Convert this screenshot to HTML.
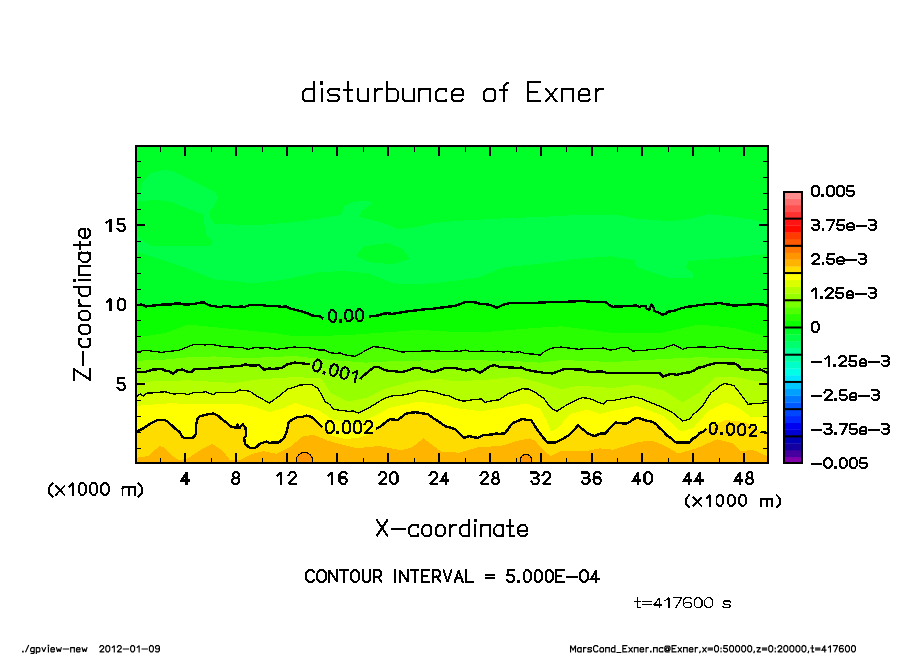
<!DOCTYPE html>
<html><head><meta charset="utf-8"><style>
html,body{margin:0;padding:0;background:#fff;width:904px;height:654px;overflow:hidden}
svg{display:block}
text{font-family:"Liberation Sans",sans-serif;fill:#000}
</style></head><body>
<svg width="904" height="654" viewBox="0 0 904 654">
<defs><clipPath id="pc"><rect x="137" y="147" width="630" height="315"/></clipPath></defs>
<g clip-path="url(#pc)" shape-rendering="crispEdges">
<rect x="135" y="145" width="634" height="320" fill="#00ff28"/>
<polygon fill="#00ff46" points="137.0,200.8 143.0,181.9 150.9,172.9 164.8,169.9 174.8,171.9 194.6,181.9 214.5,191.8 218.5,197.8 214.5,204.7 209.6,211.7 210.5,217.7 214.5,223.6 235.0,224.6 257.3,225.2 295.0,222.1 319.5,218.4 341.5,214.7 343.9,206.2 353.7,201.8 368.4,200.8 372.1,203.7 361.1,211.1 359.8,217.2 375.7,220.8 390.4,225.7 397.8,229.4 417.3,227.0 432.0,223.3 455.0,221.0 503.9,218.4 552.9,216.4 582.2,214.7 615.0,214.7 634.5,218.4 671.2,221.3 693.2,218.4 707.9,214.2 727.4,216.0 751.9,219.6 768.0,223.3 768.0,253.9 732.3,257.5 688.3,261.2 685.8,267.3 693.2,273.4 693.2,278.3 671.2,278.3 636.9,267.3 634.5,260.0 610.0,256.3 577.3,258.8 540.6,263.7 503.9,267.3 479.5,277.1 455.0,280.8 432.0,283.2 412.4,284.5 392.9,283.2 368.4,273.4 343.9,271.0 319.5,272.2 295.0,277.1 281.8,280.0 252.4,283.2 235.0,281.3 214.5,279.3 184.7,267.4 154.9,257.4 137.0,252.4"/>
<polygon fill="#00ff28" points="135.0,201.7 154.9,199.8 170.8,201.7 190.7,209.7 203.6,214.7 204.6,225.6 206.6,235.5 212.5,241.5 210.5,245.5 150.9,245.5 141.0,239.5 135.0,234.6"/>
<polygon fill="#00ff28" points="356.2,255.1 363.5,246.5 388.0,242.9 402.6,249.0 410.0,258.8 392.9,264.4 368.4,262.0 356.2,256.3"/>
<polygon fill="#0aff00" points="136.8,305.0 145.6,306.5 163.3,304.5 188.1,304.5 199.6,302.7 220.0,307.3 244.7,306.8 253.6,305.0 267.7,305.9 281.9,306.8 294.3,309.5 303.8,312.1 323.3,318.7 346.0,318.0 369.3,316.5 392.3,313.9 410.0,310.9 436.6,308.2 455.0,305.9 470.9,302.0 490.4,305.0 496.6,307.7 504.6,304.2 516.9,303.3 543.5,302.4 578.9,301.0 605.4,302.0 612.5,306.8 636.0,305.5 639.5,306.8 643.0,305.8 645.7,306.4 646.5,308.6 649.2,309.9 651.4,304.6 653.2,306.4 654.5,311.2 658.9,312.6 662.5,314.8 666.0,313.5 667.8,311.7 674.0,310.8 680.2,308.6 687.3,306.8 695.2,305.9 707.3,303.8 719.7,302.7 733.9,305.6 760.4,303.8 768.0,305.9 768.0,464.0 135.0,464.0"/>
<polygon fill="#28ff00" points="135.0,336.9 152.7,335.1 166.9,332.5 188.1,324.5 205.8,326.3 223.5,328.1 250.0,330.7 276.6,333.4 295.0,336.5 348.1,335.1 383.5,332.5 418.9,329.8 455.0,332.0 490.4,331.6 534.6,328.0 561.2,326.3 596.6,330.7 612.0,333.0 663.0,332.5 698.5,324.5 733.9,328.0 768.0,336.9 768.0,464.0 135.0,464.0"/>
<polygon fill="#50ff00" points="136.8,351.9 145.6,350.2 161.5,352.3 179.2,350.2 193.4,344.5 205.8,344.9 223.5,346.6 241.2,347.5 248.3,349.3 267.7,347.5 276.6,349.3 294.3,347.0 312.7,348.4 330.4,352.8 355.2,356.4 372.9,346.6 387.0,348.4 401.2,352.0 427.7,351.1 455.0,351.1 508.1,351.6 525.8,353.7 540.0,355.1 552.3,348.0 561.2,347.0 578.9,349.3 596.6,348.4 610.0,350.2 627.7,347.5 633.0,351.1 663.0,348.4 673.7,344.5 682.6,349.3 698.5,347.0 733.9,348.4 768.0,351.1 768.0,464.0 135.0,464.0"/>
<polygon fill="#78ff00" points="135.0,360.8 161.5,359.9 188.1,357.3 214.6,356.4 241.2,358.1 267.7,357.3 295.0,356.0 330.0,360.0 365.8,362.6 401.0,360.8 455.0,360.0 508.0,360.8 540.0,362.6 561.0,360.0 612.0,362.0 663.0,359.0 698.5,357.3 734.0,358.1 768.0,360.0 768.0,464.0 135.0,464.0"/>
<polygon fill="#96ff00" points="136.8,371.8 143.8,372.3 152.7,369.6 161.5,368.8 173.1,374.1 177.5,370.0 191.6,372.3 193.4,369.6 214.6,367.9 241.2,365.8 258.9,365.2 264.2,369.6 281.9,367.9 287.2,364.3 295.0,362.6 309.7,364.2 335.0,371.0 360.2,379.2 367.3,372.6 374.6,367.0 383.5,369.6 401.2,372.3 418.9,367.9 433.0,372.3 445.4,367.9 455.0,367.9 465.6,370.5 472.7,368.8 479.8,372.8 490.4,366.1 516.9,367.9 534.6,371.4 552.3,373.5 564.7,368.8 578.9,369.3 593.1,372.3 612.0,373.2 636.5,372.8 659.6,373.2 663.1,376.7 689.6,372.3 707.3,365.2 716.2,362.9 733.9,363.5 741.0,368.8 760.4,369.6 768.0,373.2 768.0,464.0 135.0,464.0"/>
<polygon fill="#b4ff00" points="135.0,382.0 188.0,380.3 234.0,383.0 259.0,379.4 295.0,377.0 321.5,378.5 330.4,392.7 348.1,401.5 365.8,398.0 383.5,389.2 410.0,382.0 436.6,378.5 455.0,381.5 490.4,379.4 517.0,376.8 543.5,383.8 561.2,389.2 578.9,385.6 612.0,388.0 636.5,384.7 663.0,390.0 682.6,402.4 698.5,392.7 716.0,376.8 734.0,376.8 751.6,380.3 768.0,382.0 768.0,464.0 135.0,464.0"/>
<polygon fill="#dcff00" points="136.8,396.2 140.3,394.1 143.8,396.2 145.6,393.2 165.1,391.8 173.9,394.1 188.1,394.5 205.8,391.8 212.9,394.8 216.4,392.7 234.1,392.7 239.4,390.0 250.0,391.3 257.1,396.2 269.5,403.0 280.1,395.4 287.2,389.2 295.0,387.0 310.9,384.2 318.0,388.3 325.1,401.5 333.9,409.5 348.1,411.3 358.7,413.1 369.3,407.7 383.5,398.9 401.2,395.4 424.2,390.6 436.6,392.7 455.0,399.0 463.8,401.2 472.7,399.8 481.5,398.9 485.1,402.4 499.2,399.8 508.1,393.6 522.3,388.8 534.6,391.8 543.5,398.0 550.6,407.7 556.8,411.3 566.5,405.1 578.9,398.9 582.4,397.7 596.6,401.5 603.7,404.2 607.2,400.7 612.0,400.7 633.0,396.6 641.9,398.9 663.1,407.7 672.0,412.2 682.6,421.0 689.6,419.2 702.0,406.9 710.9,392.7 725.0,383.5 733.9,385.6 741.0,394.5 748.0,404.2 760.4,403.3 768.0,402.4 768.0,464.0 135.0,464.0"/>
<polygon fill="#ffff00" points="135.0,406.0 170.0,403.3 206.0,404.2 241.0,404.2 255.0,406.9 269.5,412.2 282.0,408.6 295.0,403.0 318.8,410.3 332.0,419.2 349.8,424.0 363.0,421.8 376.4,414.7 390.0,407.7 418.9,401.5 445.4,405.1 455.0,408.0 481.5,411.3 508.0,406.9 525.8,403.3 540.0,408.6 547.0,421.0 550.6,431.6 557.7,428.1 570.0,414.0 587.7,409.5 600.0,414.0 612.0,411.0 636.5,406.0 663.0,415.7 680.8,431.6 693.2,428.1 709.0,410.4 725.0,402.4 737.4,406.9 751.6,417.5 768.0,416.6 768.0,464.0 135.0,464.0"/>
<polygon fill="#ffdc00" points="136.8,431.6 142.1,429.0 150.0,423.8 158.3,419.7 164.4,419.7 168.3,422.2 175.4,428.8 179.9,432.1 182.1,436.5 183.7,437.9 192.6,437.9 195.9,434.3 196.2,424.9 197.6,418.3 200.0,416.1 209.3,413.9 218.2,415.7 230.6,426.3 236.8,428.1 237.3,424.6 239.4,428.1 242.1,424.6 242.7,424.2 245.3,427.4 246.2,435.4 244.0,438.0 245.3,444.2 249.7,447.8 255.0,448.2 260.4,443.4 266.5,441.6 269.2,442.9 278.9,442.3 284.2,438.0 286.9,431.0 288.7,422.1 293.1,419.0 298.4,416.8 310.8,416.8 313.5,418.6 322.4,427.1 329.5,435.1 345.4,439.1 358.7,437.7 370.2,434.2 375.9,428.9 380.8,426.2 389.6,419.2 397.7,420.1 408.3,413.1 415.4,412.2 427.7,413.9 445.4,426.3 455.0,429.0 463.8,437.8 469.2,436.1 478.0,437.8 483.3,435.2 504.6,433.4 513.4,422.8 522.3,418.9 531.1,420.1 540.0,433.4 547.0,442.3 555.9,442.3 564.7,437.8 570.0,434.3 578.0,425.4 587.7,433.4 594.8,436.1 605.4,433.4 610.0,428.1 615.3,422.4 625.9,423.7 638.3,417.8 656.0,424.2 666.6,435.2 675.5,442.3 689.6,442.3 706.5,428.6 725.0,420.0 745.0,422.0 760.5,431.7 768.0,433.0 768.0,464.0 135.0,464.0"/>
<polygon fill="#ffb400" points="135.0,458.0 148.3,456.0 159.3,446.0 163.8,447.1 172.6,456.0 179.2,460.4 188.1,458.2 201.4,449.3 212.4,443.8 223.5,451.5 230.1,460.4 239.0,460.4 252.3,453.8 263.3,451.1 276.6,453.8 289.9,447.1 303.1,436.1 314.2,435.0 327.5,440.5 335.0,442.7 357.1,448.2 379.2,446.0 401.4,450.4 412.4,447.1 423.5,438.3 432.3,444.9 441.2,451.5 458.9,452.7 478.8,447.1 500.9,446.0 518.6,440.5 529.7,438.3 535.0,440.6 542.8,449.7 550.6,456.2 561.0,451.0 587.0,451.0 600.0,448.4 613.0,449.7 639.0,441.9 652.0,440.6 665.0,445.8 678.0,453.6 696.2,448.4 717.0,439.3 732.6,443.2 741.0,451.0 752.0,450.0 758.0,452.0 764.0,455.0 768.0,456.0 768.0,464.0 135.0,464.0"/>
<circle cx="304.5" cy="460.6" r="8.2" fill="#ff9600" stroke="#000" stroke-width="1.1"/>
<circle cx="526" cy="460" r="5.6" fill="#ff9600" stroke="#000" stroke-width="1.1"/>
<polyline fill="none" stroke="#000" stroke-width="2.4" stroke-linejoin="round" points="136.8,305.0 141.2,304.6 145.6,306.5 150.0,306.0 154.4,305.5 158.9,305.0 163.3,304.5 167.4,304.7 171.6,304.5 175.7,303.3 179.8,303.3 184.0,304.5 188.1,304.5 193.8,303.9 199.6,302.7 203.7,302.4 207.8,304.8 211.8,306.0 215.9,306.4 220.0,307.3 224.1,306.0 228.2,305.9 232.3,307.1 236.5,307.0 240.6,306.5 244.7,306.8 249.1,305.3 253.6,305.0 258.3,305.2 263.0,305.3 267.7,305.9 272.4,305.9 277.2,306.2 281.9,306.8 286.0,306.5 290.2,308.6 294.3,309.5 299.1,310.8 303.8,312.1 307.7,313.4 311.6,315.3 315.5,316.1 319.4,316.2 323.3,318.7"/>
<polyline fill="none" stroke="#000" stroke-width="2.4" stroke-linejoin="round" points="369.3,316.5 373.9,316.0 378.5,315.5 383.1,313.7 387.7,313.2 392.3,313.9 396.7,313.1 401.1,312.4 405.6,311.6 410.0,310.9 414.4,310.6 418.9,310.0 423.3,309.5 427.7,309.0 432.2,308.9 436.6,308.2 441.2,307.6 445.8,307.0 450.4,306.5 455.0,305.9 459.0,304.6 462.9,302.8 466.9,301.8 470.9,302.0 475.8,302.5 480.6,304.0 485.5,304.2 490.4,305.0 496.6,307.7 500.6,305.9 504.6,304.2 508.7,303.3 512.8,303.2 516.9,303.3 521.3,303.1 525.8,303.0 530.2,302.9 534.6,303.2 539.1,302.5 543.5,302.4 547.9,302.2 552.4,302.0 556.8,301.9 561.2,301.7 565.6,302.1 570.0,301.4 574.5,301.5 578.9,301.0 583.3,301.2 587.7,301.4 592.1,302.0 596.6,301.7 601.0,301.8 605.4,302.0 609.0,304.9 612.5,306.8 617.2,306.5 621.9,306.4 626.6,306.0 631.3,305.8 636.0,305.5 639.5,306.8 643.0,305.8 645.7,306.4 646.5,308.6 649.2,309.9 651.4,304.6 653.2,306.4 654.5,311.2 658.9,312.6 662.5,314.8 666.0,313.5 667.8,311.7 674.0,310.8 680.2,308.6 687.3,306.8 695.2,305.9 699.2,304.9 703.3,304.7 707.3,303.8 711.4,303.9 715.6,303.6 719.7,302.7 724.4,304.2 729.2,304.6 733.9,305.6 738.3,305.3 742.7,305.0 747.1,304.7 751.6,304.4 756.0,303.7 760.4,303.8 768.0,305.9"/>
<polyline fill="none" stroke="#000" stroke-width="2.4" stroke-linejoin="round" points="136.8,371.8 143.8,372.3 148.2,371.0 152.7,369.6 157.1,369.3 161.5,368.8 165.4,370.6 169.2,371.1 173.1,374.1 177.5,370.0 182.2,369.6 186.9,371.5 191.6,372.3 193.4,369.6 197.6,368.9 201.9,368.9 206.1,369.0 210.4,368.4 214.6,367.9 219.0,367.7 223.5,367.2 227.9,366.9 232.3,366.5 236.8,366.1 241.2,365.8 245.6,364.4 250.0,365.5 254.5,365.4 258.9,365.2 264.2,369.6 268.6,368.6 273.0,368.8 277.5,368.6 281.9,367.9 287.2,364.3 295.0,362.6 299.9,363.1 304.8,363.7 309.7,364.2"/>
<polyline fill="none" stroke="#000" stroke-width="2.4" stroke-linejoin="round" points="360.2,379.2 363.8,375.4 367.3,372.6 371.0,369.4 374.6,367.0 379.1,367.1 383.5,369.6 387.9,370.8 392.4,371.0 396.8,371.6 401.2,372.3 405.6,371.2 410.0,369.7 414.5,367.8 418.9,367.9 423.6,369.9 428.3,370.8 433.0,372.3 437.1,370.8 441.3,369.4 445.4,367.9 450.2,367.7 455.0,367.9 460.3,369.2 465.6,370.5 472.7,368.8 476.2,370.8 479.8,372.8 483.3,370.6 486.9,368.3 490.4,366.1 494.8,365.2 499.2,366.7 503.6,367.0 508.1,367.3 512.5,367.6 516.9,367.9 521.3,367.6 525.8,369.6 530.2,370.5 534.6,371.4 539.0,371.9 543.5,372.9 547.9,373.0 552.3,373.5 556.4,371.9 560.6,370.4 564.7,368.8 569.4,369.0 574.2,369.3 578.9,369.3 583.6,369.9 588.4,371.7 593.1,372.3 597.8,371.3 602.5,371.6 607.3,373.0 612.0,373.2 616.1,373.2 620.2,372.9 624.2,373.0 628.3,372.8 632.4,373.0 636.5,372.8 641.1,372.7 645.7,373.0 650.4,373.1 655.0,373.1 659.6,373.2 663.1,376.7 667.5,374.8 671.9,374.0 676.4,374.8 680.8,373.8 685.2,372.8 689.6,372.3 694.0,370.5 698.5,367.6 702.9,367.0 707.3,365.2 711.8,364.0 716.2,362.9 720.6,363.0 725.0,363.2 729.5,363.4 733.9,363.5 737.5,364.9 741.0,368.8 745.9,369.6 750.7,369.2 755.5,369.9 760.4,369.6 764.2,371.4 768.0,373.2"/>
<polyline fill="none" stroke="#000" stroke-width="2.4" stroke-linejoin="round" points="136.8,431.6 142.1,429.0 146.1,426.4 150.0,423.8 154.2,421.8 158.3,419.7 164.4,419.7 168.3,422.2 171.9,425.5 175.4,428.8 179.9,432.1 182.1,436.5 183.7,437.9 188.1,437.9 192.6,437.9 195.9,434.3 196.1,429.6 196.2,424.9 197.6,418.3 200.0,416.1 204.7,415.0 209.3,413.9 213.8,413.6 218.2,415.7 221.3,418.9 224.4,421.0 227.5,423.6 230.6,426.3 236.8,428.1 237.3,424.6 239.4,428.1 242.1,424.6 242.7,424.2 245.3,427.4 245.8,430.2 246.2,435.4 244.0,438.0 245.3,444.2 249.7,447.8 255.0,448.2 260.4,443.4 266.5,441.6 269.2,442.9 274.0,442.3 278.9,442.3 284.2,438.0 286.9,431.0 287.8,426.6 288.7,422.1 293.1,419.0 298.4,416.8 302.5,416.8 306.7,415.6 310.8,416.8 313.5,418.6 316.5,421.2 319.4,424.3 322.4,427.1"/>
<polyline fill="none" stroke="#000" stroke-width="2.4" stroke-linejoin="round" points="375.9,428.9 380.8,426.2 385.2,422.7 389.6,419.2 393.6,419.6 397.7,420.1 401.2,417.5 404.8,414.2 408.3,413.1 415.4,412.2 419.5,412.8 423.6,413.6 427.7,413.9 431.2,416.7 434.8,419.2 438.3,421.3 441.9,423.9 445.4,426.3 450.2,427.6 455.0,429.0 457.9,432.0 460.9,434.9 463.8,437.8 469.2,436.1 473.6,437.3 478.0,437.8 483.3,435.2 487.6,434.8 491.8,434.5 496.1,433.6 500.3,433.8 504.6,433.4 507.5,429.9 510.5,425.8 513.4,422.8 517.8,421.0 522.3,418.9 526.7,420.0 531.1,420.1 533.3,423.4 535.5,426.9 537.8,430.6 540.0,433.4 543.5,437.9 547.0,442.3 551.5,442.3 555.9,442.3 560.3,440.1 564.7,437.8 570.0,434.3 574.0,429.9 578.0,425.4 581.2,428.1 584.5,430.7 587.7,433.4 594.8,436.1 600.1,433.6 605.4,433.4 610.0,428.1 615.3,422.4 620.6,423.2 625.9,423.7 630.0,421.8 634.2,418.6 638.3,417.8 642.7,419.4 647.1,421.0 651.6,421.4 656.0,424.2 659.5,427.9 663.1,431.2 666.6,435.2 671.0,438.3 675.5,442.3 680.2,442.7 684.9,442.3 689.6,442.3 693.0,438.4 696.4,436.8 699.7,432.9 703.1,431.8 706.5,428.6"/>
<polyline fill="none" stroke="#000" stroke-width="2.4" stroke-linejoin="round" points="760.5,431.7 768.0,433.0"/>
<polyline fill="none" stroke="#000" stroke-width="1.3" stroke-linejoin="round" points="136.8,351.9 145.6,350.2 150.9,351.0 156.2,351.6 161.5,352.3 167.4,351.6 173.3,350.9 179.2,350.2 183.9,348.3 188.7,346.4 193.4,344.5 199.6,344.7 205.8,344.9 211.7,344.3 217.6,345.6 223.5,346.6 229.4,346.9 235.3,347.2 241.2,347.5 248.3,349.3 254.8,347.5 261.2,348.1 267.7,347.5 276.6,349.3 282.5,348.5 288.4,347.8 294.3,347.0 300.4,347.5 306.6,347.4 312.7,348.4 318.6,349.9 324.5,350.1 330.4,352.8 335.4,353.3 340.3,353.0 345.3,354.9 350.2,355.7 355.2,356.4 359.6,353.9 364.0,351.5 368.5,349.2 372.9,346.6 379.9,347.3 387.0,348.4 394.1,350.2 401.2,352.0 406.5,351.8 411.8,351.6 417.1,351.5 422.4,351.0 427.7,351.1 433.2,350.7 438.6,351.1 444.1,351.4 449.5,351.6 455.0,351.1 460.3,351.2 465.6,350.0 470.9,351.7 476.2,351.8 481.6,350.9 486.9,351.4 492.2,351.5 497.5,351.1 502.8,352.0 508.1,351.6 514.0,352.3 519.9,351.8 525.8,353.7 532.9,354.0 540.0,355.1 546.1,350.4 552.3,348.0 561.2,347.0 567.1,347.8 573.0,348.6 578.9,349.3 584.8,348.7 590.7,348.7 596.6,348.4 603.3,348.1 610.0,350.2 615.9,349.3 621.8,347.2 627.7,347.5 633.0,351.1 638.0,350.4 643.0,350.7 648.0,349.8 653.0,349.7 658.0,348.7 663.0,348.4 668.4,346.4 673.7,344.5 678.2,346.9 682.6,349.3 687.9,347.3 693.2,347.8 698.5,347.0 703.6,347.0 708.6,347.4 713.7,347.4 718.7,346.6 723.8,346.8 728.8,348.2 733.9,348.4 739.6,349.0 745.3,349.3 751.0,349.8 756.6,350.3 762.3,350.7 768.0,351.1"/>
<polyline fill="none" stroke="#000" stroke-width="1.3" stroke-linejoin="round" points="136.8,396.2 140.3,394.1 143.8,396.2 145.6,393.2 152.1,392.9 158.6,392.3 165.1,391.8 173.9,394.1 181.0,393.1 188.1,394.5 194.0,392.4 199.9,392.5 205.8,391.8 212.9,394.8 216.4,392.7 222.3,392.7 228.2,392.7 234.1,392.7 239.4,390.0 244.7,390.6 250.0,391.3 257.1,396.2 263.3,399.6 269.5,403.0 274.8,399.2 280.1,395.4 287.2,389.2 295.0,387.0 300.3,384.9 305.6,384.8 310.9,384.2 318.0,388.3 321.6,394.9 325.1,401.5 329.5,404.3 333.9,409.5 341.0,410.4 348.1,411.3 353.4,411.0 358.7,413.1 364.0,410.4 369.3,407.7 374.0,404.7 378.8,401.8 383.5,398.9 389.4,396.5 395.3,395.4 401.2,395.4 406.9,394.2 412.7,393.0 418.4,390.6 424.2,390.6 430.4,391.6 436.6,392.7 442.7,394.8 448.9,395.7 455.0,399.0 463.8,401.2 472.7,399.8 481.5,398.9 485.1,402.4 492.1,400.7 499.2,399.8 503.6,396.8 508.1,393.6 515.2,391.4 522.3,388.8 528.5,389.1 534.6,391.8 539.0,395.2 543.5,398.0 547.0,402.8 550.6,407.7 556.8,411.3 561.6,408.2 566.5,405.1 572.7,401.9 578.9,398.9 582.4,397.7 589.5,398.4 596.6,401.5 603.7,404.2 607.2,400.7 612.0,400.7 617.2,399.7 622.5,398.6 627.8,397.6 633.0,396.6 641.9,398.9 647.2,401.1 652.5,403.2 657.8,405.5 663.1,407.7 672.0,412.2 677.3,416.6 682.6,421.0 689.6,419.2 693.7,413.9 697.9,410.9 702.0,406.9 705.0,402.2 707.9,397.4 710.9,392.7 715.6,389.6 720.3,385.4 725.0,383.5 733.9,385.6 737.5,390.1 741.0,394.5 744.5,399.4 748.0,404.2 754.2,403.7 760.4,403.3 768.0,402.4"/>
</g>
<path fill="#000" shape-rendering="crispEdges" d="M135 145h634v319h-634zM137 147v315h630v-315z" fill-rule="evenodd"/>
<g fill="#000" shape-rendering="crispEdges"><rect x="160" y="147" width="1" height="5"/><rect x="160" y="458" width="1" height="4"/><rect x="184" y="147" width="2" height="9"/><rect x="184" y="453" width="2" height="9"/><rect x="211" y="147" width="1" height="5"/><rect x="211" y="458" width="1" height="4"/><rect x="235" y="147" width="2" height="9"/><rect x="235" y="453" width="2" height="9"/><rect x="262" y="147" width="1" height="5"/><rect x="262" y="458" width="1" height="4"/><rect x="286" y="147" width="2" height="9"/><rect x="286" y="453" width="2" height="9"/><rect x="312" y="147" width="1" height="5"/><rect x="312" y="458" width="1" height="4"/><rect x="336" y="147" width="2" height="9"/><rect x="336" y="453" width="2" height="9"/><rect x="363" y="147" width="1" height="5"/><rect x="363" y="458" width="1" height="4"/><rect x="387" y="147" width="2" height="9"/><rect x="387" y="453" width="2" height="9"/><rect x="414" y="147" width="1" height="5"/><rect x="414" y="458" width="1" height="4"/><rect x="438" y="147" width="2" height="9"/><rect x="438" y="453" width="2" height="9"/><rect x="465" y="147" width="1" height="5"/><rect x="465" y="458" width="1" height="4"/><rect x="489" y="147" width="2" height="9"/><rect x="489" y="453" width="2" height="9"/><rect x="516" y="147" width="1" height="5"/><rect x="516" y="458" width="1" height="4"/><rect x="540" y="147" width="2" height="9"/><rect x="540" y="453" width="2" height="9"/><rect x="566" y="147" width="1" height="5"/><rect x="566" y="458" width="1" height="4"/><rect x="591" y="147" width="2" height="9"/><rect x="591" y="453" width="2" height="9"/><rect x="617" y="147" width="1" height="5"/><rect x="617" y="458" width="1" height="4"/><rect x="641" y="147" width="2" height="9"/><rect x="641" y="453" width="2" height="9"/><rect x="668" y="147" width="1" height="5"/><rect x="668" y="458" width="1" height="4"/><rect x="692" y="147" width="2" height="9"/><rect x="692" y="453" width="2" height="9"/><rect x="719" y="147" width="1" height="5"/><rect x="719" y="458" width="1" height="4"/><rect x="743" y="147" width="2" height="9"/><rect x="743" y="453" width="2" height="9"/><rect x="137" y="448" width="4" height="1"/><rect x="763" y="448" width="4" height="1"/><rect x="137" y="432" width="4" height="1"/><rect x="763" y="432" width="4" height="1"/><rect x="137" y="416" width="4" height="1"/><rect x="763" y="416" width="4" height="1"/><rect x="137" y="400" width="4" height="1"/><rect x="763" y="400" width="4" height="1"/><rect x="137" y="383" width="8" height="2"/><rect x="759" y="383" width="8" height="2"/><rect x="137" y="368" width="4" height="1"/><rect x="763" y="368" width="4" height="1"/><rect x="137" y="352" width="4" height="1"/><rect x="763" y="352" width="4" height="1"/><rect x="137" y="336" width="4" height="1"/><rect x="763" y="336" width="4" height="1"/><rect x="137" y="320" width="4" height="1"/><rect x="763" y="320" width="4" height="1"/><rect x="137" y="304" width="8" height="2"/><rect x="759" y="304" width="8" height="2"/><rect x="137" y="289" width="4" height="1"/><rect x="763" y="289" width="4" height="1"/><rect x="137" y="273" width="4" height="1"/><rect x="763" y="273" width="4" height="1"/><rect x="137" y="257" width="4" height="1"/><rect x="763" y="257" width="4" height="1"/><rect x="137" y="241" width="4" height="1"/><rect x="763" y="241" width="4" height="1"/><rect x="137" y="224" width="8" height="2"/><rect x="759" y="224" width="8" height="2"/><rect x="137" y="209" width="4" height="1"/><rect x="763" y="209" width="4" height="1"/><rect x="137" y="193" width="4" height="1"/><rect x="763" y="193" width="4" height="1"/><rect x="137" y="177" width="4" height="1"/><rect x="763" y="177" width="4" height="1"/><rect x="137" y="161" width="4" height="1"/><rect x="763" y="161" width="4" height="1"/></g>
<rect x="784" y="456.79" width="18" height="7.10" fill="#8200aa"/>
<rect x="784" y="449.99" width="18" height="7.10" fill="#4600a0"/>
<rect x="784" y="443.19" width="18" height="7.10" fill="#1400a0"/>
<rect x="784" y="436.38" width="18" height="7.10" fill="#0000b4"/>
<rect x="784" y="429.57" width="18" height="7.10" fill="#0000d2"/>
<rect x="784" y="422.77" width="18" height="7.10" fill="#0000f0"/>
<rect x="784" y="415.97" width="18" height="7.10" fill="#0028ff"/>
<rect x="784" y="409.16" width="18" height="7.10" fill="#0046ff"/>
<rect x="784" y="402.36" width="18" height="7.10" fill="#005aff"/>
<rect x="784" y="395.55" width="18" height="7.10" fill="#0078ff"/>
<rect x="784" y="388.75" width="18" height="7.10" fill="#00a0ff"/>
<rect x="784" y="381.94" width="18" height="7.10" fill="#00c8ff"/>
<rect x="784" y="375.13" width="18" height="7.10" fill="#00e6ff"/>
<rect x="784" y="368.33" width="18" height="7.10" fill="#00ffe6"/>
<rect x="784" y="361.52" width="18" height="7.10" fill="#00ffc8"/>
<rect x="784" y="354.72" width="18" height="7.10" fill="#00ffa0"/>
<rect x="784" y="347.91" width="18" height="7.10" fill="#00ff96"/>
<rect x="784" y="341.11" width="18" height="7.10" fill="#00ff6e"/>
<rect x="784" y="334.31" width="18" height="7.10" fill="#00ff46"/>
<rect x="784" y="327.50" width="18" height="7.10" fill="#00ff28"/>
<rect x="784" y="320.69" width="18" height="7.10" fill="#0aff00"/>
<rect x="784" y="313.89" width="18" height="7.10" fill="#28ff00"/>
<rect x="784" y="307.09" width="18" height="7.10" fill="#50ff00"/>
<rect x="784" y="300.28" width="18" height="7.10" fill="#78ff00"/>
<rect x="784" y="293.48" width="18" height="7.10" fill="#96ff00"/>
<rect x="784" y="286.67" width="18" height="7.10" fill="#b4ff00"/>
<rect x="784" y="279.87" width="18" height="7.10" fill="#dcff00"/>
<rect x="784" y="273.06" width="18" height="7.10" fill="#ffff00"/>
<rect x="784" y="266.25" width="18" height="7.10" fill="#ffdc00"/>
<rect x="784" y="259.45" width="18" height="7.10" fill="#ffb400"/>
<rect x="784" y="252.65" width="18" height="7.10" fill="#ff9600"/>
<rect x="784" y="245.84" width="18" height="7.10" fill="#ff7800"/>
<rect x="784" y="239.03" width="18" height="7.10" fill="#ff5a00"/>
<rect x="784" y="232.23" width="18" height="7.10" fill="#ff3c00"/>
<rect x="784" y="225.43" width="18" height="7.10" fill="#ff0a00"/>
<rect x="784" y="218.62" width="18" height="7.10" fill="#ff1414"/>
<rect x="784" y="211.81" width="18" height="7.10" fill="#ff3232"/>
<rect x="784" y="205.01" width="18" height="7.10" fill="#ff5050"/>
<rect x="784" y="198.21" width="18" height="7.10" fill="#ff6e6e"/>
<rect x="784" y="191.40" width="18" height="7.10" fill="#ff8c8c"/>
<path d="M784 218.62h18" stroke="#000" stroke-width="2"/>
<path d="M784 245.84h18" stroke="#000" stroke-width="2"/>
<path d="M784 273.06h18" stroke="#000" stroke-width="2"/>
<path d="M784 300.28h18" stroke="#000" stroke-width="2"/>
<path d="M784 327.50h18" stroke="#000" stroke-width="2"/>
<path d="M784 354.72h18" stroke="#000" stroke-width="2"/>
<path d="M784 381.94h18" stroke="#000" stroke-width="2"/>
<path d="M784 409.16h18" stroke="#000" stroke-width="2"/>
<path d="M784 436.38h18" stroke="#000" stroke-width="2"/>
<rect x="784" y="192" width="18" height="271" fill="none" stroke="#000" stroke-width="2"/>
<g fill="none" stroke="#000" stroke-linejoin="miter" stroke-miterlimit="2.2" stroke-linecap="square" shape-rendering="crispEdges">
<path d="M313.78 82.40L313.78 101.40L305.33 101.40L303.00 98.87L303.00 92.22L306.20 88.73L313.78 88.73M321.67 88.73L321.67 101.40M320.94 81.77L322.40 81.77L322.40 83.67L320.94 83.67L320.94 81.77M339.21 90.32L338.63 88.73L330.47 88.73L328.14 91.27L328.14 92.53L330.47 95.07L336.88 95.07L339.21 97.60L339.21 98.87L336.88 101.40L328.72 101.40L328.14 99.82M348.07 82.40L348.07 101.40L352.14 101.40M343.70 89.68L351.85 89.68M357.58 88.73L357.58 98.87L359.91 101.40L368.07 101.40M368.07 88.73L368.07 101.40M374.77 88.73L374.77 101.40M374.77 92.22L377.97 88.73L381.76 88.73M386.88 82.40L386.88 101.40L395.33 101.40L397.66 98.87L397.66 91.27L395.33 88.73L386.88 88.73M403.25 88.73L403.25 98.87L405.58 101.40L413.74 101.40M413.74 88.73L413.74 101.40M419.33 88.73L419.33 101.40M419.33 90.63L421.08 88.73L430.40 88.73L430.40 101.40M446.49 90.63L446.49 88.73L439.20 88.73L436.00 92.22L436.00 98.87L438.33 101.40L446.49 101.40L446.49 99.82M452.08 95.07L462.86 95.07L462.86 91.27L460.53 88.73L455.28 88.73L452.08 92.22L452.08 98.87L454.41 101.40L460.82 101.40L462.86 99.50M487.07 88.73L492.60 88.73L494.93 91.27L494.93 98.87L492.60 101.40L486.19 101.40L483.86 98.87L483.86 92.22L487.07 88.73M500.05 89.68L507.33 89.68M504.13 101.40L504.13 86.20L507.04 82.88L507.92 82.88M540.48 82.40L528.45 82.40L528.45 101.40L540.48 101.40M528.45 91.74L536.57 91.74M546.07 88.73L556.27 101.40M556.27 88.73L546.07 101.40M561.86 88.73L561.86 101.40M561.86 90.63L563.61 88.73L572.93 88.73L572.93 101.40M578.53 95.07L589.31 95.07L589.31 91.27L586.98 88.73L581.73 88.73L578.53 92.22L578.53 98.87L580.86 101.40L587.27 101.40L589.31 99.50M596.01 88.73L596.01 101.40M596.01 92.22L599.21 88.73L603.00 88.73" stroke-width="2.0"/>
<path d="M377.00 520.30L387.17 535.60M387.17 520.30L377.00 535.60M391.72 528.72L404.57 528.72M417.57 526.93L417.57 525.40L411.70 525.40L409.12 528.21L409.12 533.56L411.00 535.60L417.57 535.60L417.57 534.33M424.82 525.40L429.28 525.40L431.16 527.44L431.16 533.56L429.28 535.60L424.12 535.60L422.24 533.56L422.24 528.21L424.82 525.40M438.41 525.40L442.87 525.40L444.74 527.44L444.74 533.56L442.87 535.60L437.71 535.60L435.83 533.56L435.83 528.21L438.41 525.40M450.31 525.40L450.31 535.60M450.31 528.21L452.89 525.40L455.94 525.40M468.91 520.30L468.91 535.60L462.11 535.60L460.23 533.56L460.23 528.21L462.81 525.40L468.91 525.40M475.44 525.40L475.44 535.60M474.85 519.79L476.03 519.79L476.03 521.32L474.85 521.32L474.85 519.79M480.82 525.40L480.82 535.60M480.82 526.93L482.23 525.40L489.73 525.40L489.73 535.60M503.09 525.40L503.09 535.60M503.09 527.44L501.21 525.40L496.99 525.40L494.41 528.21L494.41 533.56L496.28 535.60L501.21 535.60L503.09 533.56M510.39 520.30L510.39 535.60L513.67 535.60M506.87 526.16L513.44 526.16M518.22 530.50L526.90 530.50L526.90 527.44L525.02 525.40L520.80 525.40L518.22 528.21L518.22 533.56L520.10 535.60L525.26 535.60L526.90 534.07" stroke-width="2.0"/>
<path d="M74.10 379.50L74.10 369.13L89.70 379.50L89.70 369.13M82.68 364.68L82.68 351.58M80.86 338.53L79.30 338.53L79.30 344.51L82.16 347.14L87.62 347.14L89.70 345.23L89.70 338.53L88.40 338.53M79.30 331.32L79.30 326.78L81.38 324.87L87.62 324.87L89.70 326.78L89.70 332.04L87.62 333.96L82.16 333.96L79.30 331.32M79.30 317.66L79.30 313.12L81.38 311.21L87.62 311.21L89.70 313.12L89.70 318.38L87.62 320.29L82.16 320.29L79.30 317.66M79.30 305.72L89.70 305.72M82.16 305.72L79.30 303.09L79.30 299.98M74.10 286.95L89.70 286.95L89.70 293.89L87.62 295.80L82.16 295.80L79.30 293.17L79.30 286.95M79.30 280.49L89.70 280.49M73.58 281.09L73.58 279.89L75.14 279.89L75.14 281.09L73.58 281.09M79.30 275.20L89.70 275.20M80.86 275.20L79.30 273.77L79.30 266.11L89.70 266.11M79.30 252.69L89.70 252.69M81.38 252.69L79.30 254.60L79.30 258.91L82.16 261.54L87.62 261.54L89.70 259.63L89.70 254.60L87.62 252.69M74.10 245.44L89.70 245.44L89.70 242.09M80.08 249.03L80.08 242.33M84.50 237.65L84.50 228.80L81.38 228.80L79.30 230.71L79.30 235.02L82.16 237.65L87.62 237.65L89.70 235.74L89.70 230.47L88.14 228.80" stroke-width="2.0"/>
<path d="M188.59 480.52L181.41 480.52L186.54 472.35L186.54 483.75" stroke-width="2.1"/>
<path d="M234.45 477.67L233.08 476.15L233.08 473.87L234.45 472.35L237.19 472.35L238.56 473.87L238.56 476.15L237.19 477.67L234.45 477.67L232.23 479.76L232.23 481.85L233.94 483.75L237.70 483.75L239.41 481.85L239.41 479.76L237.19 477.67" stroke-width="2.1"/>
<path d="M277.39 475.68L280.98 472.35L280.98 483.75M288.71 475.20L290.59 472.35L294.01 472.35L295.89 474.44L295.89 476.62L288.71 483.75L295.89 483.75" stroke-width="2.1"/>
<path d="M328.21 475.68L331.80 472.35L331.80 483.75M346.37 473.49L345.34 472.35L341.58 472.35L339.53 474.82L339.53 481.66L341.41 483.75L344.83 483.75L346.71 481.66L346.71 479.38L345.00 477.48L341.41 477.48L339.53 479.57" stroke-width="2.1"/>
<path d="M379.03 475.20L380.91 472.35L384.33 472.35L386.21 474.44L386.21 476.62L379.03 483.75L386.21 483.75M392.57 472.35L395.31 472.35L397.53 475.01L397.53 481.09L395.31 483.75L392.57 483.75L390.35 481.09L390.35 475.01L392.57 472.35" stroke-width="2.1"/>
<path d="M429.85 475.20L431.73 472.35L435.15 472.35L437.03 474.44L437.03 476.62L429.85 483.75L437.03 483.75M448.35 480.52L441.17 480.52L446.30 472.35L446.30 483.75" stroke-width="2.1"/>
<path d="M480.67 475.20L482.55 472.35L485.97 472.35L487.85 474.44L487.85 476.62L480.67 483.75L487.85 483.75M494.21 477.67L492.84 476.15L492.84 473.87L494.21 472.35L496.95 472.35L498.31 473.87L498.31 476.15L496.95 477.67L494.21 477.67L491.99 479.76L491.99 481.85L493.70 483.75L497.46 483.75L499.17 481.85L499.17 479.76L496.95 477.67" stroke-width="2.1"/>
<path d="M531.49 472.54L536.88 472.54L538.50 474.44L538.50 475.96L536.79 477.67L533.63 477.67M536.79 477.67L538.67 479.57L538.67 481.85L536.96 483.75L533.20 483.75L531.49 481.85M542.81 475.20L544.69 472.35L548.11 472.35L549.99 474.44L549.99 476.62L542.81 483.75L549.99 483.75" stroke-width="2.1"/>
<path d="M582.31 472.54L587.70 472.54L589.32 474.44L589.32 475.96L587.61 477.67L584.45 477.67M587.61 477.67L589.49 479.57L589.49 481.85L587.78 483.75L584.02 483.75L582.31 481.85M600.47 473.49L599.44 472.35L595.68 472.35L593.63 474.82L593.63 481.66L595.51 483.75L598.93 483.75L600.81 481.66L600.81 479.38L599.10 477.48L595.51 477.48L593.63 479.57" stroke-width="2.1"/>
<path d="M640.31 480.52L633.13 480.52L638.26 472.35L638.26 483.75M646.67 472.35L649.41 472.35L651.63 475.01L651.63 481.09L649.41 483.75L646.67 483.75L644.45 481.09L644.45 475.01L646.67 472.35" stroke-width="2.1"/>
<path d="M691.13 480.52L683.95 480.52L689.08 472.35L689.08 483.75M702.45 480.52L695.27 480.52L700.40 472.35L700.40 483.75" stroke-width="2.1"/>
<path d="M741.95 480.52L734.77 480.52L739.90 472.35L739.90 483.75M748.31 477.67L746.94 476.15L746.94 473.87L748.31 472.35L751.05 472.35L752.41 473.87L752.41 476.15L751.05 477.67L748.31 477.67L746.09 479.76L746.09 481.85L747.80 483.75L751.56 483.75L753.27 481.85L753.27 479.76L751.05 477.67" stroke-width="2.1"/>
<path d="M124.42 378.15L118.28 378.15L117.84 383.41L123.02 383.41L124.95 385.56L124.95 387.90L123.19 389.85L119.33 389.85L117.58 387.90" stroke-width="2.1"/>
<path d="M106.85 302.06L110.54 298.65L110.54 310.35M119.86 298.65L122.67 298.65L124.95 301.38L124.95 307.62L122.67 310.35L119.86 310.35L117.58 307.62L117.58 301.38L119.86 298.65" stroke-width="2.1"/>
<path d="M106.85 222.56L110.54 219.15L110.54 230.85M124.42 219.15L118.28 219.15L117.84 224.41L123.02 224.41L124.95 226.56L124.95 228.90L123.19 230.85L119.33 230.85L117.58 228.90" stroke-width="2.1"/>
<path d="M52.60 483.15L49.65 486.63L48.95 487.98L48.95 492.43L49.65 493.78L52.26 496.49M55.98 486.05L64.33 494.75M64.33 486.05L55.98 494.75M69.45 486.53L73.11 483.15L73.11 494.75M80.97 483.15L83.75 483.15L86.01 485.86L86.01 492.04L83.75 494.75L80.97 494.75L78.71 492.04L78.71 485.86L80.97 483.15M92.23 483.15L95.02 483.15L97.28 485.86L97.28 492.04L95.02 494.75L92.23 494.75L89.97 492.04L89.97 485.86L92.23 483.15M103.50 483.15L106.28 483.15L108.55 485.86L108.55 492.04L106.28 494.75L103.50 494.75L101.24 492.04L101.24 485.86L103.50 483.15M122.46 487.02L122.46 494.75M122.46 488.37L123.70 487.02L134.73 487.02L134.73 494.75M128.59 487.02L128.59 494.75M138.40 483.15L141.35 486.63L142.05 487.98L142.05 492.43L141.35 493.78L138.74 496.49" stroke-width="1.9"/>
<path d="M689.29 495.05L686.59 498.23L685.95 499.47L685.95 503.53L686.59 504.77L688.97 507.24M693.50 497.70L701.14 505.65M701.14 497.70L693.50 505.65M706.94 498.14L710.28 495.05L710.28 505.65M718.59 495.05L721.14 495.05L723.20 497.52L723.20 503.18L721.14 505.65L718.59 505.65L716.53 503.18L716.53 497.52L718.59 495.05M730.02 495.05L732.56 495.05L734.63 497.52L734.63 503.18L732.56 505.65L730.02 505.65L727.95 503.18L727.95 497.52L730.02 495.05M741.44 495.05L743.98 495.05L746.05 497.52L746.05 503.18L743.98 505.65L741.44 505.65L739.37 503.18L739.37 497.52L741.44 495.05M761.02 498.58L761.02 505.65M761.02 499.82L762.15 498.58L772.23 498.58L772.23 505.65M766.62 498.58L766.62 505.65M776.71 495.05L779.41 498.23L780.05 499.47L780.05 503.53L779.41 504.77L777.03 507.24" stroke-width="1.9"/>
<path d="M313.83 572.02L312.37 570.30L308.55 570.30L306.00 572.98L306.00 579.12L308.55 581.80L312.37 581.80L313.83 580.07M320.00 570.30L323.10 570.30L325.65 572.98L325.65 579.12L323.10 581.80L320.00 581.80L317.45 579.12L317.45 572.98L320.00 570.30M329.27 581.80L329.27 570.30L337.10 581.80L337.10 570.30M340.44 570.30L347.72 570.30M344.08 570.30L344.08 581.80M353.61 570.30L356.71 570.30L359.26 572.98L359.26 579.12L356.71 581.80L353.61 581.80L351.06 579.12L351.06 572.98L353.61 570.30M362.88 570.30L362.88 579.50L365.07 581.80L367.98 581.80L370.16 579.50L370.16 570.30M373.79 581.80L373.79 570.30L379.43 570.30L381.44 572.41L381.44 574.52L379.43 576.62L373.79 576.62M377.80 576.62L381.44 581.80M395.46 570.30L395.46 581.80M399.92 581.80L399.92 570.30L407.75 581.80L407.75 570.30M411.09 570.30L418.37 570.30M414.73 570.30L414.73 581.80M428.99 570.30L421.71 570.30L421.71 581.80L428.99 581.80M421.71 575.95L426.63 575.95M432.62 581.80L432.62 570.30L438.26 570.30L440.27 572.41L440.27 574.52L438.26 576.62L432.62 576.62M436.63 576.62L440.27 581.80M443.60 570.30L447.52 581.80L451.43 570.30M454.77 581.80L458.69 570.30L462.60 581.80M456.14 577.97L461.24 577.97M466.23 570.30L466.23 581.80L472.96 581.80M486.16 574.90L493.92 574.90M486.16 578.16L493.92 578.16M513.84 570.30L507.80 570.30L507.37 575.47L512.46 575.47L514.36 577.58L514.36 579.88L512.63 581.80L508.84 581.80L507.11 579.88M518.44 580.65L519.30 580.65L519.30 581.80L518.44 581.80L518.44 580.65M526.01 570.30L528.77 570.30L531.02 572.98L531.02 579.12L528.77 581.80L526.01 581.80L523.77 579.12L523.77 572.98L526.01 570.30M536.88 570.30L539.64 570.30L541.89 572.98L541.89 579.12L539.64 581.80L536.88 581.80L534.64 579.12L534.64 572.98L536.88 570.30M547.75 570.30L550.51 570.30L552.76 572.98L552.76 579.12L550.51 581.80L547.75 581.80L545.51 579.12L545.51 572.98L547.75 570.30M563.67 570.30L556.38 570.30L556.38 581.80L563.67 581.80M556.38 575.95L561.30 575.95M567.20 576.62L576.86 576.62M582.63 570.30L585.39 570.30L587.63 572.98L587.63 579.12L585.39 581.80L582.63 581.80L580.38 579.12L580.38 572.98L582.63 570.30M598.50 578.54L591.25 578.54L596.43 570.30L596.43 581.80" stroke-width="2.0"/>
<path d="M637.46 597.82L637.46 607.67L640.10 607.67M634.62 601.60L639.91 601.60M642.79 601.76L651.11 601.76M642.79 604.56L651.11 604.56M661.64 604.88L653.88 604.88L659.42 597.82L659.42 607.67M665.15 600.70L669.03 597.82L669.03 607.67M673.20 597.82L680.96 597.82L680.96 598.65L675.97 607.67M691.12 598.81L690.02 597.82L685.95 597.82L683.74 599.96L683.74 605.87L685.77 607.67L689.46 607.67L691.49 605.87L691.49 603.90L689.65 602.26L685.77 602.26L683.74 604.06M696.67 597.82L699.63 597.82L702.03 600.12L702.03 605.38L699.63 607.67L696.67 607.67L694.27 605.38L694.27 600.12L696.67 597.82M707.20 597.82L710.16 597.82L712.56 600.12L712.56 605.38L710.16 607.67L707.20 607.67L704.80 605.38L704.80 600.12L707.20 597.82M730.38 601.93L730.00 601.11L724.71 601.11L723.20 602.42L723.20 603.08L724.71 604.39L728.86 604.39L730.38 605.70L730.38 606.36L728.86 607.67L723.58 607.67L723.20 606.85" stroke-width="1.25"/>
<path d="M814.20 186.00L816.92 186.00L819.12 188.33L819.12 193.67L816.92 196.00L814.20 196.00L812.00 193.67L812.00 188.33L814.20 186.00M822.41 195.00L823.26 195.00L823.26 196.00L822.41 196.00L822.41 195.00M829.09 186.00L831.81 186.00L834.01 188.33L834.01 193.67L831.81 196.00L829.09 196.00L826.89 193.67L826.89 188.33L829.09 186.00M839.09 186.00L841.80 186.00L844.00 188.33L844.00 193.67L841.80 196.00L839.09 196.00L836.89 193.67L836.89 188.33L839.09 186.00M853.49 186.00L847.56 186.00L847.14 190.50L852.14 190.50L854.00 192.33L854.00 194.33L852.30 196.00L848.58 196.00L846.88 194.33" stroke-width="2.0"/>
<path d="M812.00 220.17L817.34 220.17L818.95 221.83L818.95 223.17L817.25 224.67L814.12 224.67M817.25 224.67L819.12 226.33L819.12 228.33L817.42 230.00L813.70 230.00L812.00 228.33M822.50 229.00L823.35 229.00L823.35 230.00L822.50 230.00L822.50 229.00M827.06 220.00L834.18 220.00L834.18 220.83L829.60 230.00M843.75 220.00L837.82 220.00L837.40 224.50L842.40 224.50L844.26 226.33L844.26 228.33L842.57 230.00L838.84 230.00L837.14 228.33M847.22 226.67L853.63 226.67L853.63 224.67L852.25 223.33L849.13 223.33L847.22 225.17L847.22 228.67L848.61 230.00L852.42 230.00L853.63 229.00M856.51 225.50L866.00 225.50M868.88 220.17L874.22 220.17L875.83 221.83L875.83 223.17L874.14 224.67L871.00 224.67M874.14 224.67L876.00 226.33L876.00 228.33L874.30 230.00L870.58 230.00L868.88 228.33" stroke-width="2.0"/>
<path d="M812.00 256.50L813.86 254.00L817.25 254.00L819.12 255.83L819.12 257.75L812.00 264.00L819.12 264.00M822.52 263.00L823.36 263.00L823.36 264.00L822.52 264.00L822.52 263.00M833.70 254.00L827.77 254.00L827.35 258.50L832.35 258.50L834.21 260.33L834.21 262.33L832.52 264.00L828.79 264.00L827.09 262.33M837.19 260.67L843.60 260.67L843.60 258.67L842.21 257.33L839.10 257.33L837.19 259.17L837.19 262.67L838.58 264.00L842.39 264.00L843.60 263.00M846.49 259.50L855.99 259.50M858.88 254.17L864.22 254.17L865.83 255.83L865.83 257.17L864.14 258.67L861.00 258.67M864.14 258.67L866.00 260.33L866.00 262.33L864.30 264.00L860.58 264.00L858.88 262.33" stroke-width="2.0"/>
<path d="M812.00 290.92L815.56 288.00L815.56 298.00M820.71 297.00L821.56 297.00L821.56 298.00L820.71 298.00L820.71 297.00M825.63 290.50L827.50 288.00L830.89 288.00L832.75 289.83L832.75 291.75L825.63 298.00L832.75 298.00M842.68 288.00L836.75 288.00L836.32 292.50L841.32 292.50L843.19 294.33L843.19 296.33L841.49 298.00L837.77 298.00L836.07 296.33M846.51 294.67L852.92 294.67L852.92 292.67L851.53 291.33L848.41 291.33L846.51 293.17L846.51 296.67L847.89 298.00L851.71 298.00L852.92 297.00M856.15 293.50L865.65 293.50M868.88 288.17L874.22 288.17L875.83 289.83L875.83 291.17L874.14 292.67L871.00 292.67M874.14 292.67L876.00 294.33L876.00 296.33L874.30 298.00L870.58 298.00L868.88 296.33" stroke-width="2.0"/>
<path d="M814.07 322.00L816.63 322.00L818.70 324.33L818.70 329.67L816.63 332.00L814.07 332.00L812.00 329.67L812.00 324.33L814.07 322.00" stroke-width="2.0"/>
<path d="M812.00 361.50L821.49 361.50M825.41 358.92L828.97 356.00L828.97 366.00M834.05 365.00L834.90 365.00L834.90 366.00L834.05 366.00L834.05 365.00M838.91 358.50L840.77 356.00L844.16 356.00L846.02 357.83L846.02 359.75L838.91 366.00L846.02 366.00M855.89 356.00L849.95 356.00L849.53 360.50L854.53 360.50L856.39 362.33L856.39 364.33L854.70 366.00L850.97 366.00L849.27 364.33M859.64 362.67L866.06 362.67L866.06 360.67L864.67 359.33L861.55 359.33L859.64 361.17L859.64 364.67L861.03 366.00L864.84 366.00L866.06 365.00M869.22 361.50L878.71 361.50M881.88 356.17L887.22 356.17L888.83 357.83L888.83 359.17L887.14 360.67L884.00 360.67M887.14 360.67L889.00 362.33L889.00 364.33L887.30 366.00L883.58 366.00L881.88 364.33" stroke-width="2.0"/>
<path d="M812.00 395.50L821.49 395.50M824.49 392.50L826.35 390.00L829.74 390.00L831.61 391.83L831.61 393.75L824.49 400.00L831.61 400.00M835.11 399.00L835.95 399.00L835.95 400.00L835.11 400.00L835.11 399.00M846.40 390.00L840.46 390.00L840.04 394.50L845.04 394.50L846.91 396.33L846.91 398.33L845.21 400.00L841.48 400.00L839.79 398.33M849.99 396.67L856.40 396.67L856.40 394.67L855.01 393.33L851.89 393.33L849.99 395.17L849.99 398.67L851.37 400.00L855.18 400.00L856.40 399.00M859.39 395.50L868.88 395.50M871.88 390.17L877.22 390.17L878.83 391.83L878.83 393.17L877.14 394.67L874.00 394.67M877.14 394.67L879.00 396.33L879.00 398.33L877.30 400.00L873.58 400.00L871.88 398.33" stroke-width="2.0"/>
<path d="M812.00 429.50L821.49 429.50M824.46 424.17L829.80 424.17L831.41 425.83L831.41 427.17L829.71 428.67L826.58 428.67M829.71 428.67L831.58 430.33L831.58 432.33L829.88 434.00L826.15 434.00L824.46 432.33M835.05 433.00L835.90 433.00L835.90 434.00L835.05 434.00L835.05 433.00M839.70 424.00L846.82 424.00L846.82 424.83L842.24 434.00M856.48 424.00L850.55 424.00L850.13 428.50L855.13 428.50L856.99 430.33L856.99 432.33L855.30 434.00L851.57 434.00L849.87 432.33M860.04 430.67L866.45 430.67L866.45 428.67L865.07 427.33L861.95 427.33L860.04 429.17L860.04 432.67L861.43 434.00L865.24 434.00L866.45 433.00M869.42 429.50L878.91 429.50M881.88 424.17L887.22 424.17L888.83 425.83L888.83 427.17L887.14 428.67L884.00 428.67M887.14 428.67L889.00 430.33L889.00 432.33L887.30 434.00L883.58 434.00L881.88 432.33" stroke-width="2.0"/>
<path d="M812.00 463.50L821.49 463.50M826.63 458.00L829.34 458.00L831.55 460.33L831.55 465.67L829.34 468.00L826.63 468.00L824.43 465.67L824.43 460.33L826.63 458.00M834.99 467.00L835.83 467.00L835.83 468.00L834.99 468.00L834.99 467.00M841.81 458.00L844.52 458.00L846.72 460.33L846.72 465.67L844.52 468.00L841.81 468.00L839.60 465.67L839.60 460.33L841.81 458.00M851.95 458.00L854.66 458.00L856.86 460.33L856.86 465.67L854.66 468.00L851.95 468.00L849.74 465.67L849.74 460.33L851.95 458.00M866.49 458.00L860.56 458.00L860.14 462.50L865.14 462.50L867.00 464.33L867.00 466.33L865.31 468.00L861.58 468.00L859.88 466.33" stroke-width="2.0"/>
<path d="M330.94 310.44L333.67 310.35L335.99 312.93L336.20 319.00L334.07 321.74L331.33 321.84L329.02 319.26L328.81 313.18L330.94 310.44M340.21 320.39L341.06 320.36L341.10 321.50L340.25 321.53L340.21 320.39M347.26 309.87L349.99 309.78L352.31 312.36L352.52 318.43L350.39 321.17L347.66 321.27L345.34 318.69L345.13 312.61L347.26 309.87M357.94 309.50L360.67 309.40L362.99 311.99L363.20 318.06L361.07 320.80L358.34 320.89L356.02 318.31L355.81 312.24L357.94 309.50" stroke-width="2.1"/>
<path d="M317.38 359.82L320.03 360.53L321.49 363.67L319.91 369.55L317.08 371.54L314.43 370.83L312.97 367.69L314.55 361.82L317.38 359.82M323.76 372.15L324.59 372.37L324.30 373.48L323.47 373.25L323.76 372.15M334.01 364.28L336.65 364.98L338.11 368.13L336.53 374.00L333.70 376.00L331.06 375.29L329.60 372.14L331.17 366.27L334.01 364.28M344.75 367.15L347.39 367.86L348.85 371.01L347.28 376.88L344.44 378.87L341.80 378.17L340.34 375.02L341.91 369.15L344.75 367.15M353.31 372.89L357.64 370.61L354.69 381.62" stroke-width="2.1"/>
<path d="M328.37 421.25L331.23 421.25L333.55 424.03L333.55 430.37L331.23 433.15L328.37 433.15L326.05 430.37L326.05 424.03L328.37 421.25M337.52 431.96L338.41 431.96L338.41 433.15L337.52 433.15L337.52 431.96M345.09 421.25L347.95 421.25L350.27 424.03L350.27 430.37L347.95 433.15L345.09 433.15L342.77 430.37L342.77 424.03L345.09 421.25M356.08 421.25L358.94 421.25L361.26 424.03L361.26 430.37L358.94 433.15L356.08 433.15L353.76 430.37L353.76 424.03L356.08 421.25M364.75 424.22L366.72 421.25L370.29 421.25L372.25 423.43L372.25 425.71L364.75 433.15L372.25 433.15" stroke-width="2.1"/>
<path d="M712.10 422.73L714.71 422.87L716.70 425.52L716.39 431.33L714.14 433.75L711.53 433.62L709.54 430.97L709.84 425.16L712.10 422.73M721.02 433.02L721.83 433.07L721.78 434.15L720.96 434.11L721.02 433.02M729.53 423.65L732.14 423.78L734.13 426.43L733.83 432.24L731.57 434.67L728.96 434.53L726.97 431.88L727.28 426.07L729.53 423.65M740.65 424.23L743.27 424.37L745.26 427.02L744.95 432.82L742.70 435.25L740.08 435.11L738.09 432.46L738.40 426.66L740.65 424.23M749.51 427.42L751.45 424.79L754.71 424.97L756.41 427.06L756.30 429.14L749.08 435.59L755.94 435.95" stroke-width="2.1"/>
</g>
<g fill="none" stroke="#000" stroke-linejoin="miter" stroke-miterlimit="2.2" stroke-linecap="square">
<path d="M22.67 651.20L23.14 651.20L23.14 651.82L22.67 651.82L22.67 651.20M25.72 651.82L28.53 645.57M34.20 647.66L34.20 652.66L33.44 653.49L31.14 653.49M34.20 647.66L31.71 647.66L30.66 648.80L30.66 650.78L31.42 651.62L34.20 651.62M36.33 647.66L36.33 653.49M36.33 647.66L39.11 647.66L39.87 648.49L39.87 650.99L39.11 651.82L36.33 651.82M42.00 647.66L43.77 651.82L45.54 647.66M48.42 647.66L48.42 651.82M48.18 645.37L48.66 645.37L48.66 645.99L48.18 645.99L48.18 645.37M50.83 649.74L54.38 649.74L54.38 648.49L53.61 647.66L51.89 647.66L50.83 648.80L50.83 650.99L51.60 651.82L53.71 651.82L54.38 651.20M56.50 647.66L57.70 651.82L58.90 648.70L60.10 651.82L61.30 647.66M63.37 649.01L68.62 649.01M70.69 647.66L70.69 651.82M70.69 648.28L71.26 647.66L74.33 647.66L74.33 651.82M76.45 649.74L80.00 649.74L80.00 648.49L79.23 647.66L77.51 647.66L76.45 648.80L76.45 650.99L77.22 651.82L79.33 651.82L80.00 651.20M82.12 647.66L83.32 651.82L84.52 648.70L85.72 651.82L86.92 647.66M99.75 647.14L100.78 645.57L102.65 645.57L103.68 646.72L103.68 647.92L99.75 651.82L103.68 651.82M107.03 645.57L108.53 645.57L109.75 647.03L109.75 650.37L108.53 651.82L107.03 651.82L105.81 650.37L105.81 647.03L107.03 645.57M112.34 647.40L114.31 645.57L114.31 651.82M117.32 647.14L118.35 645.57L120.22 645.57L121.25 646.72L121.25 647.92L117.32 651.82L121.25 651.82M123.33 649.01L128.58 649.01M131.87 645.57L133.37 645.57L134.59 647.03L134.59 650.37L133.37 651.82L131.87 651.82L130.65 650.37L130.65 647.03L131.87 645.57M137.18 647.40L139.15 645.57L139.15 651.82M142.10 649.01L147.35 649.01M150.64 645.57L152.14 645.57L153.36 647.03L153.36 650.37L152.14 651.82L150.64 651.82L149.43 650.37L149.43 647.03L150.64 645.57M155.67 651.20L156.24 651.82L158.30 651.82L159.42 650.47L159.42 646.72L158.39 645.57L156.52 645.57L155.49 646.72L155.49 647.97L156.42 649.01L158.39 649.01L159.42 647.97" stroke-width="1.15"/>
<path d="M570.58 651.82L570.58 645.57L573.05 650.00L575.52 645.57L575.52 651.82M581.16 647.66L581.16 651.82M581.16 648.49L580.39 647.66L578.67 647.66L577.61 648.80L577.61 650.99L578.38 651.82L580.39 651.82L581.16 650.99M583.61 647.66L583.61 651.82M583.61 648.80L584.66 647.66L585.91 647.66M591.48 648.18L591.29 647.66L588.61 647.66L587.84 648.49L587.84 648.91L588.61 649.74L590.72 649.74L591.48 650.57L591.48 650.99L590.72 651.82L588.03 651.82L587.84 651.30M597.83 646.51L597.04 645.57L594.96 645.57L593.57 647.03L593.57 650.37L594.96 651.82L597.04 651.82L597.83 650.89M600.97 647.66L602.79 647.66L603.56 648.49L603.56 650.99L602.79 651.82L600.68 651.82L599.92 650.99L599.92 648.80L600.97 647.66M605.65 647.66L605.65 651.82M605.65 648.28L606.22 647.66L609.29 647.66L609.29 651.82M614.92 645.57L614.92 651.82L612.14 651.82L611.38 650.99L611.38 648.80L612.43 647.66L614.92 647.66M617.01 652.45L620.76 652.45M626.81 645.57L622.85 645.57L622.85 651.82L626.81 651.82M622.85 648.65L625.52 648.65M628.89 647.66L632.25 651.82M632.25 647.66L628.89 651.82M634.34 647.66L634.34 651.82M634.34 648.28L634.91 647.66L637.98 647.66L637.98 651.82M640.07 649.74L643.61 649.74L643.61 648.49L642.85 647.66L641.12 647.66L640.07 648.80L640.07 650.99L640.83 651.82L642.94 651.82L643.61 651.20M646.07 647.66L646.07 651.82M646.07 648.80L647.12 647.66L648.37 647.66M650.55 651.20L651.02 651.20L651.02 651.82L650.55 651.82L650.55 651.20M653.56 647.66L653.56 651.82M653.56 648.28L654.14 647.66L657.21 647.66L657.21 651.82M662.74 648.28L662.74 647.66L660.35 647.66L659.29 648.80L659.29 650.99L660.06 651.82L662.74 651.82L662.74 651.30M668.58 650.00L668.58 647.92L666.47 647.92L666.00 648.70L666.00 649.74L666.47 650.52L668.58 650.52L669.29 650.52L669.99 649.74L669.99 647.14L669.05 646.10L665.77 646.10L664.83 647.14L664.83 650.78L665.77 651.82L669.05 651.82M676.03 645.57L672.08 645.57L672.08 651.82L676.03 651.82M672.08 648.65L674.75 648.65M678.12 647.66L681.48 651.82M681.48 647.66L678.12 651.82M683.57 647.66L683.57 651.82M683.57 648.28L684.14 647.66L687.21 647.66L687.21 651.82M689.30 649.74L692.84 649.74L692.84 648.49L692.07 647.66L690.35 647.66L689.30 648.80L689.30 650.99L690.06 651.82L692.17 651.82L692.84 651.20M695.29 647.66L695.29 651.82M695.29 648.80L696.35 647.66L697.59 647.66M700.14 651.20L700.14 651.93L699.67 652.66M702.78 647.66L706.14 651.82M706.14 647.66L702.78 651.82M708.22 648.07L712.44 648.07M708.22 649.85L712.44 649.85M715.75 645.57L717.25 645.57L718.47 647.03L718.47 650.37L717.25 651.82L715.75 651.82L714.53 650.37L714.53 647.03L715.75 645.57M721.04 648.07L721.04 648.60M721.04 651.30L721.04 651.82M727.27 645.57L723.99 645.57L723.75 648.39L726.52 648.39L727.55 649.53L727.55 650.78L726.61 651.82L724.55 651.82L723.61 650.78M730.86 645.57L732.36 645.57L733.58 647.03L733.58 650.37L732.36 651.82L730.86 651.82L729.64 650.37L729.64 647.03L730.86 645.57M736.88 645.57L738.38 645.57L739.60 647.03L739.60 650.37L738.38 651.82L736.88 651.82L735.67 650.37L735.67 647.03L736.88 645.57M742.91 645.57L744.41 645.57L745.63 647.03L745.63 650.37L744.41 651.82L742.91 651.82L741.69 650.37L741.69 647.03L742.91 645.57M748.94 645.57L750.44 645.57L751.65 647.03L751.65 650.37L750.44 651.82L748.94 651.82L747.72 650.37L747.72 647.03L748.94 645.57M754.36 651.20L754.36 651.93L753.89 652.66M757.00 647.66L760.35 647.66L757.00 651.82L760.35 651.82M762.44 648.07L766.66 648.07M762.44 649.85L766.66 649.85M769.97 645.57L771.47 645.57L772.69 647.03L772.69 650.37L771.47 651.82L769.97 651.82L768.75 650.37L768.75 647.03L769.97 645.57M775.26 648.07L775.26 648.60M775.26 651.30L775.26 651.82M777.83 647.14L778.86 645.57L780.74 645.57L781.77 646.72L781.77 647.92L777.83 651.82L781.77 651.82M785.08 645.57L786.58 645.57L787.79 647.03L787.79 650.37L786.58 651.82L785.08 651.82L783.86 650.37L783.86 647.03L785.08 645.57M791.10 645.57L792.60 645.57L793.82 647.03L793.82 650.37L792.60 651.82L791.10 651.82L789.88 650.37L789.88 647.03L791.10 645.57M797.13 645.57L798.63 645.57L799.85 647.03L799.85 650.37L798.63 651.82L797.13 651.82L795.91 650.37L795.91 647.03L797.13 645.57M803.15 645.57L804.65 645.57L805.87 647.03L805.87 650.37L804.65 651.82L803.15 651.82L801.93 650.37L801.93 647.03L803.15 645.57M808.57 651.20L808.57 651.93L808.11 652.66M812.29 645.57L812.29 651.82L813.63 651.82M810.85 647.97L813.53 647.97M815.67 648.07L819.88 648.07M815.67 649.85L819.88 649.85M825.91 650.05L821.97 650.05L824.79 645.57L824.79 651.82M828.47 647.40L830.44 645.57L830.44 651.82M833.41 645.57L837.35 645.57L837.35 646.10L834.82 651.82M843.19 646.20L842.62 645.57L840.56 645.57L839.44 646.93L839.44 650.68L840.47 651.82L842.34 651.82L843.37 650.68L843.37 649.43L842.44 648.39L840.47 648.39L839.44 649.53M846.68 645.57L848.18 645.57L849.40 647.03L849.40 650.37L848.18 651.82L846.68 651.82L845.46 650.37L845.46 647.03L846.68 645.57M852.71 645.57L854.21 645.57L855.43 647.03L855.43 650.37L854.21 651.82L852.71 651.82L851.49 650.37L851.49 647.03L852.71 645.57" stroke-width="1.15"/>
</g>
</svg>
</body></html>
